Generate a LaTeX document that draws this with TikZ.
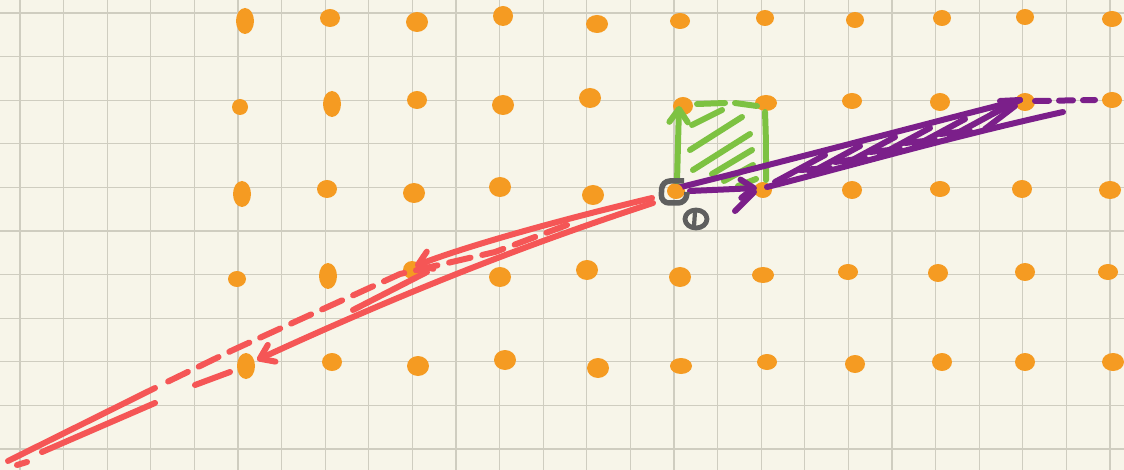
\documentclass[tikz,border=0pt]{standalone}
\usetikzlibrary{arrows.meta}
\definecolor{bgc}{HTML}{F7F5E9}
\definecolor{gridc}{HTML}{CFCDC0}
\definecolor{dotc}{HTML}{F59B22}
\definecolor{greenc}{HTML}{7DC242}
\definecolor{purc}{HTML}{7B1F8A}
\definecolor{redc}{HTML}{F55656}
\definecolor{grayc}{HTML}{5F5F5F}
\tikzset{
  pen/.style={line width=6pt, line cap=round, line join=round},
  gpen/.style={pen, draw=greenc},
  ppen/.style={pen, draw=purc},
  rpen/.style={pen, draw=redc},
  tip/.style={-{Straight Barb[angle=70:16pt,round]}},
  dsh/.style={dash pattern=on 22pt off 12pt},
}
\begin{document}
\begin{tikzpicture}[x=1pt,y=-1pt]
\useasboundingbox (0,0) rectangle (1124,470);
\fill[bgc] (0,0) rectangle (1124,470);
% grid
\foreach \k in {0,...,25} \draw[gridc, line width=1.1pt] ({20+43.6*\k},0) -- ({20+43.6*\k},470);
\foreach \k in {0,...,10} \draw[gridc, line width=1.1pt] (0,{13+43.6*\k}) -- (1124,{13+43.6*\k});
% dots
\foreach \x/\y/\a/\b in {
 245/21/9/13, 330/18/10/9, 417/22/11/10, 503/16/10/10, 597/24/11/9, 680/21/10/8, 765/18/9/8, 855/20/9/8, 942/18/9/8, 1025/17/9/8, 1112/19/10/8,
 240/107/8/8, 332/104/9/13, 417/100/10/9, 503/105/11/10, 590/98/11/10, 683/106/10/9, 766/103/11/8, 852/101/10/8, 940/102/10/9, 1025/102/10/9, 1112/100/10/8,
 242/194/9/13, 327/189/10/9, 414/193/11/10, 500/187/11/10, 593/195/11/10, 676/191/9/8, 763/190/9/8, 852/190/10/9, 940/189/10/8, 1022/189/10/9, 1110/190/11/9,
 237/279/9/8, 328/276/9/13, 412/270/9/9, 500/277/11/10, 587/270/11/10, 680/277/11/10, 763/275/11/8, 848/272/10/8, 938/273/10/9, 1025/272/10/9, 1108/272/10/8,
 246/366/9/13, 332/362/10/9, 418/366/11/10, 505/360/11/10, 598/368/11/10, 681/366/11/8, 767/362/10/8, 855/364/10/9, 942/362/10/9, 1025/362/10/9, 1113/362/11/9}
 \fill[dotc] (\x,\y) ellipse [x radius=\a, y radius=\b];
% key points
\coordinate (O) at (677,188);
\coordinate (E1) at (757,188);
\coordinate (E2) at (679,106);
\coordinate (P) at (1020,100);
\coordinate (A) at (415,266);
\coordinate (B) at (257,360);
% green square
\draw[gpen, tip] (677,182) -- (E2);
\draw[gpen] (697,104) -- (725,103);
\draw[gpen] (735,103) -- (757,106);
\draw[gpen] (765,112) .. controls (766,140) .. (766,180);
\foreach \sx/\sy/\ex/\ey in {692/125/722/110, 690/150/742/117, 693/170/750/134, 712/174/752/150, 724/181/753/165, 738/186/756/179}
 \draw[gpen] (\sx,\sy) -- (\ex,\ey);
% purple
\draw[ppen] (O) .. controls (790,160) and (910,128) .. (P);
\draw[ppen] (1000,101) -- (P) -- (992,114);
\draw[ppen] (767,187) .. controls (850,166) and (950,137) .. (1063,112);
\draw[ppen, dash pattern=on 14pt off 10pt] (1035,101) -- (1095,100);
\foreach \sx/\sy/\ex/\ey in {775/182/825/155, 810/173/860/146, 845/164/895/137, 880/155/930/128, 915/146/965/119, 950/137/1000/110, 985/129/1015/106}
 \draw[ppen] (\sx,\sy) -- (\ex,\ey);
\foreach \sx/\sy/\ex/\ey in {800/170/830/168, 835/162/865/158, 870/152/900/149, 905/143/935/140, 940/134/970/131}
 \draw[ppen] (\sx,\sy) -- (\ex,\ey);
\draw[ppen, tip] (690,191) -- (E1);
\draw[ppen] (735,211) -- (754,192);
% red
\draw[rpen, tip] (652,198) .. controls (560,220) and (470,245) .. (A);
\draw[rpen, tip] (653,203) .. controls (540,240) and (420,285) .. (B);
\draw[rpen, dsh] (567,225) -- (495,252) -- (400,274) -- (233,350) -- (165,383);
\draw[rpen] (427,272) -- (353,310);
\draw[rpen] (155,388) -- (8,461);
\draw[rpen] (155,403) -- (42,452);
\draw[rpen] (17,465) -- (27,462);
\draw[rpen] (230,372) -- (195,385);
% origin marker
\draw[grayc, line width=5.5pt, rounded corners=8pt] (684,181) -- (662,181) -- (661,203) -- (686,203) -- (687,192);
\fill[dotc] (676,191) ellipse [x radius=7, y radius=7];
% zero label
\draw[grayc, line width=4.8pt] (696,219) ellipse [x radius=11, y radius=9];
\draw[grayc, line width=4.2pt, line cap=round] (695,212) -- (694,226);
\end{tikzpicture}
\end{document}
